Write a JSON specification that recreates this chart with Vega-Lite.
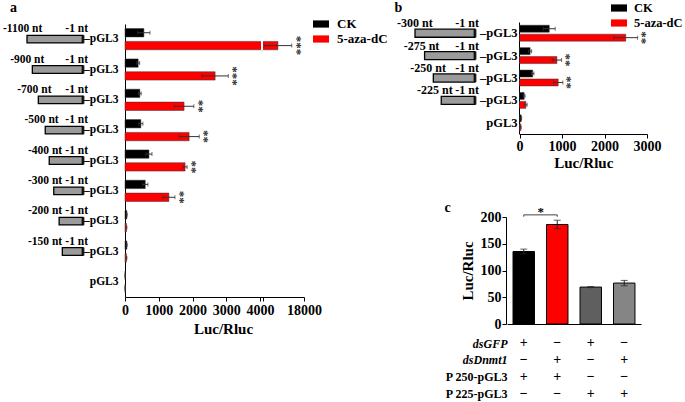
{
  "$schema": "https://vega.github.io/schema/vega-lite/v6.json",
  "width": 685,
  "height": 402,
  "autosize": {"type": "none"},
  "padding": 0,
  "background": "white",
  "config": {
    "view": {"stroke": null},
    "font": "Liberation Serif",
    "axis": {
      "labelFont": "Liberation Serif", "titleFont": "Liberation Serif",
      "labelFontWeight": "bold", "titleFontWeight": "bold",
      "labelColor": "black", "titleColor": "black",
      "domainColor": "black", "tickColor": "black",
      "grid": false, "labelFontSize": 14, "titleFontSize": 15,
      "labelOverlap": false, "labelFlush": false, "labelBound": false
    },
    "legend": {"labelFont": "Liberation Serif", "labelFontWeight": "bold", "labelColor": "black"},
    "text": {"font": "Liberation Serif", "fontWeight": "bold", "color": "black"}
  },
  "resolve": {
    "scale": {"x": "independent", "y": "independent", "color": "independent", "yOffset": "independent"},
    "axis": {"x": "independent", "y": "independent"},
    "legend": {"color": "independent"}
  },
  "layer": [
    {
      "data": {"values": [
        {"construct": "-1100", "treatment": "CK", "value": 560, "lo": 380, "hi": 740},
        {"construct": "-1100", "treatment": "5-aza-dC", "value": 9700, "lo": 5300, "hi": 14100, "sig": "***"},
        {"construct": "-900", "treatment": "CK", "value": 390, "lo": 345, "hi": 435},
        {"construct": "-900", "treatment": "5-aza-dC", "value": 2670, "lo": 2280, "hi": 3060, "sig": "***"},
        {"construct": "-700", "treatment": "CK", "value": 440, "lo": 400, "hi": 480},
        {"construct": "-700", "treatment": "5-aza-dC", "value": 1750, "lo": 1460, "hi": 2040, "sig": "**"},
        {"construct": "-500", "treatment": "CK", "value": 470, "lo": 410, "hi": 530},
        {"construct": "-500", "treatment": "5-aza-dC", "value": 1900, "lo": 1600, "hi": 2200, "sig": "**"},
        {"construct": "-400", "treatment": "CK", "value": 710, "lo": 620, "hi": 800},
        {"construct": "-400", "treatment": "5-aza-dC", "value": 1780, "lo": 1720, "hi": 1840, "sig": "**"},
        {"construct": "-300", "treatment": "CK", "value": 600, "lo": 520, "hi": 680},
        {"construct": "-300", "treatment": "5-aza-dC", "value": 1300, "lo": 1120, "hi": 1480, "sig": "**"},
        {"construct": "-200", "treatment": "CK", "value": 55, "lo": 45, "hi": 65},
        {"construct": "-200", "treatment": "5-aza-dC", "value": 45, "lo": 35, "hi": 55},
        {"construct": "-150", "treatment": "CK", "value": 55, "lo": 45, "hi": 65},
        {"construct": "-150", "treatment": "5-aza-dC", "value": 45, "lo": 35, "hi": 55},
        {"construct": "pGL3", "treatment": "CK", "value": 5, "lo": 3, "hi": 7},
        {"construct": "pGL3", "treatment": "5-aza-dC", "value": 5, "lo": 3, "hi": 7}
      ]},
      "encoding": {
        "y": {
          "field": "construct", "type": "nominal",
          "scale": {"domain": ["-1100", "-900", "-700", "-500", "-400", "-300", "-200", "-150", "pGL3"], "range": [24, 297], "paddingInner": 0.3, "paddingOuter": 0.15},
          "axis": {
            "orient": "left", "offset": -125, "ticks": false, "domain": true,
            "labelPadding": 7, "labelFontSize": 11.5,
            "labelExpr": "datum.value == 'pGL3' ? 'pGL3' : '–pGL3'",
            "title": "a", "titleAngle": 0, "titleX": -112, "titleY": 7,
            "titleAlign": "center", "titleBaseline": "middle", "titleFontSize": 14
          }
        },
        "yOffset": {"field": "treatment", "type": "nominal", "scale": {"domain": ["CK", "5-aza-dC"], "paddingInner": 0.35}}
      },
      "layer": [
        {
          "mark": {"type": "bar", "stroke": "#333", "strokeWidth": 0.5},
          "encoding": {
            "x": {
              "field": "value", "type": "quantitative",
              "scale": {"domain": [0, 4000, 18000], "range": [125, 260, 304], "zero": true, "nice": false},
              "axis": {
                "orient": "bottom", "offset": -105, "values": [0, 1000, 2000, 3000, 4000, 4950, 18000],
                "format": "d", "labelExpr": "datum.value == 4950 ? '' : datum.label",
                "tickSize": 4, "labelPadding": 2, "title": "Luc/Rluc", "titlePadding": 4, "titleX": 223
              }
            },
            "color": {
              "field": "treatment", "type": "nominal",
              "scale": {"domain": ["CK", "5-aza-dC"], "range": ["#000000", "#ff0000"]},
              "legend": {
                "orient": "none", "legendX": 313, "legendY": 16, "title": null,
                "symbolType": "M-1,-0.45H1V0.45H-1Z", "symbolSize": 256, "symbolStrokeWidth": 0,
                "labelFontSize": 13, "labelOffset": 8, "rowPadding": -1
              }
            }
          }
        },
        {
          "mark": {"type": "rect", "color": "white"},
          "encoding": {
            "x": {"datum": 4320, "type": "quantitative"},
            "x2": {"datum": 4950},
            "y": {"datum": "-1100", "type": "nominal"},
            "yOffset": {"datum": "5-aza-dC", "type": "nominal"}
          }
        },
        {
          "mark": {"type": "rule", "color": "#333", "strokeWidth": 1},
          "encoding": {"x": {"field": "lo", "type": "quantitative"}, "x2": {"field": "hi"}}
        },
        {
          "mark": {"type": "tick", "orient": "vertical", "size": 4, "thickness": 1, "color": "#333"},
          "encoding": {"x": {"field": "lo", "type": "quantitative"}}
        },
        {
          "mark": {"type": "tick", "orient": "vertical", "size": 4, "thickness": 1, "color": "#333"},
          "encoding": {"x": {"field": "hi", "type": "quantitative"}}
        },
        {
          "transform": [{"filter": "datum.sig != null"}],
          "mark": {"type": "text", "angle": 90, "align": "center", "baseline": "middle", "dy": -5, "fontSize": 13, "color": "#333"},
          "encoding": {"x": {"field": "hi", "type": "quantitative"}, "text": {"field": "sig"}}
        }
      ]
    },
    {
      "data": {"values": [
        {"construct": "-1100", "start": 1100, "end": "-1 nt"},
        {"construct": "-900", "start": 900, "end": "-1 nt"},
        {"construct": "-700", "start": 700, "end": "-1 nt"},
        {"construct": "-500", "start": 500, "end": "-1 nt"},
        {"construct": "-400", "start": 400, "end": "-1 nt"},
        {"construct": "-300", "start": 300, "end": "-1 nt"},
        {"construct": "-200", "start": 200, "end": "-1 nt"},
        {"construct": "-150", "start": 150, "end": "-1 nt"}
      ]},
      "encoding": {
        "y": {
          "field": "construct", "type": "nominal",
          "scale": {"domain": ["-1100", "-900", "-700", "-500", "-400", "-300", "-200", "-150", "pGL3"], "range": [24, 297], "paddingInner": 0.75, "paddingOuter": 0.375},
          "axis": null
        }
      },
      "layer": [
        {
          "mark": {"type": "bar", "fill": "#9b9b9b", "stroke": "black", "strokeWidth": 1.3},
          "encoding": {
            "x": {"field": "start", "type": "quantitative", "scale": {"type": "sqrt", "domain": [0, 1100], "range": [83, 27], "zero": true, "nice": false}, "axis": null},
            "x2": {"datum": 0}
          }
        },
        {
          "mark": {"type": "tick", "orient": "vertical", "size": 8, "thickness": 3, "color": "black"},
          "encoding": {"x": {"datum": 0, "type": "quantitative"}}
        },
        {
          "mark": {"type": "text", "align": "right", "baseline": "middle", "dx": 5, "dy": -10, "fontSize": 11.5},
          "encoding": {"x": {"datum": 0, "type": "quantitative"}, "text": {"field": "end"}}
        }
      ]
    },
    {
      "data": {"values": [
        {"construct": "-1100", "start": 1100, "label": "-1100 nt"},
        {"construct": "-900", "start": 900, "label": "-900 nt"},
        {"construct": "-700", "start": 700, "label": "-700 nt"},
        {"construct": "-500", "start": 500, "label": "-500 nt"},
        {"construct": "-400", "start": 400, "label": "-400 nt"},
        {"construct": "-300", "start": 300, "label": "-300 nt"},
        {"construct": "-200", "start": 200, "label": "-200 nt"},
        {"construct": "-150", "start": 150, "label": "-150 nt"}
      ]},
      "mark": {"type": "text", "align": "left", "baseline": "middle", "dy": -10, "fontSize": 11.5},
      "encoding": {
        "y": {
          "field": "construct", "type": "nominal",
          "scale": {"domain": ["-1100", "-900", "-700", "-500", "-400", "-300", "-200", "-150", "pGL3"], "range": [24, 297], "paddingInner": 0.3, "paddingOuter": 0.15},
          "axis": null
        },
        "x": {"field": "start", "type": "quantitative", "scale": {"domain": [400, 1100], "range": [28, 3], "clamp": true, "zero": false, "nice": false}, "axis": null},
        "text": {"field": "label"}
      }
    },
    {
      "data": {"values": [
        {"construct": "-300", "treatment": "CK", "value": 700, "lo": 560, "hi": 840},
        {"construct": "-300", "treatment": "5-aza-dC", "value": 2500, "lo": 2220, "hi": 2780, "sig": "**"},
        {"construct": "-275", "treatment": "CK", "value": 250, "lo": 215, "hi": 285},
        {"construct": "-275", "treatment": "5-aza-dC", "value": 880, "lo": 770, "hi": 990, "sig": "**"},
        {"construct": "-250", "treatment": "CK", "value": 310, "lo": 280, "hi": 340},
        {"construct": "-250", "treatment": "5-aza-dC", "value": 910, "lo": 800, "hi": 1020, "sig": "**"},
        {"construct": "-225", "treatment": "CK", "value": 110, "lo": 90, "hi": 130},
        {"construct": "-225", "treatment": "5-aza-dC", "value": 150, "lo": 120, "hi": 180},
        {"construct": "pGL3", "treatment": "CK", "value": 40, "lo": 30, "hi": 50},
        {"construct": "pGL3", "treatment": "5-aza-dC", "value": 30, "lo": 20, "hi": 40}
      ]},
      "encoding": {
        "y": {
          "field": "construct", "type": "nominal",
          "scale": {"domain": ["-300", "-275", "-250", "-225", "pGL3"], "range": [22, 134], "paddingInner": 0.29, "paddingOuter": 0.145},
          "axis": {
            "orient": "left", "offset": -519, "ticks": false, "domain": true,
            "labelPadding": 2, "labelFontSize": 12.5,
            "labelExpr": "datum.value == 'pGL3' ? 'pGL3' : '–pGL3'",
            "title": "b", "titleAngle": 0, "titleX": -121, "titleY": 7,
            "titleAlign": "center", "titleBaseline": "middle", "titleFontSize": 14
          }
        },
        "yOffset": {"field": "treatment", "type": "nominal", "scale": {"domain": ["CK", "5-aza-dC"], "paddingInner": 0.22}}
      },
      "layer": [
        {
          "mark": {"type": "bar", "stroke": "#333", "strokeWidth": 0.5},
          "encoding": {
            "x": {
              "field": "value", "type": "quantitative",
              "scale": {"domain": [0, 3000], "range": [519.5, 647], "zero": true, "nice": false},
              "axis": {
                "orient": "bottom", "offset": -268, "values": [0, 1000, 2000, 3000],
                "format": "d", "tickSize": 4, "labelPadding": 1, "title": "Luc/Rluc", "titlePadding": 2
              }
            },
            "color": {
              "field": "treatment", "type": "nominal",
              "scale": {"domain": ["CK", "5-aza-dC"], "range": ["#000000", "#ff0000"]},
              "legend": {
                "orient": "none", "legendX": 611, "legendY": 0, "title": null,
                "symbolType": "M-1,-0.45H1V0.45H-1Z", "symbolSize": 256, "symbolStrokeWidth": 0,
                "labelFontSize": 12.5, "labelOffset": 7, "rowPadding": -1
              }
            }
          }
        },
        {
          "mark": {"type": "rule", "color": "#333", "strokeWidth": 1},
          "encoding": {"x": {"field": "lo", "type": "quantitative"}, "x2": {"field": "hi"}}
        },
        {
          "mark": {"type": "tick", "orient": "vertical", "size": 4, "thickness": 1, "color": "#333"},
          "encoding": {"x": {"field": "lo", "type": "quantitative"}}
        },
        {
          "mark": {"type": "tick", "orient": "vertical", "size": 4, "thickness": 1, "color": "#333"},
          "encoding": {"x": {"field": "hi", "type": "quantitative"}}
        },
        {
          "transform": [{"filter": "datum.sig != null"}],
          "mark": {"type": "text", "angle": 90, "align": "center", "baseline": "middle", "dy": -4, "fontSize": 13, "color": "#333"},
          "encoding": {"x": {"field": "hi", "type": "quantitative"}, "text": {"field": "sig"}}
        }
      ]
    },
    {
      "data": {"values": [
        {"construct": "-300", "start": 300, "end": "-1 nt"},
        {"construct": "-275", "start": 275, "end": "-1 nt"},
        {"construct": "-250", "start": 250, "end": "-1 nt"},
        {"construct": "-225", "start": 225, "end": "-1 nt"}
      ]},
      "encoding": {
        "y": {
          "field": "construct", "type": "nominal",
          "scale": {"domain": ["-300", "-275", "-250", "-225", "pGL3"], "range": [22, 134], "paddingInner": 0.64, "paddingOuter": 0.32},
          "axis": null
        }
      },
      "layer": [
        {
          "mark": {"type": "bar", "fill": "#9b9b9b", "stroke": "black", "strokeWidth": 1.3},
          "encoding": {
            "x": {"field": "start", "type": "quantitative", "scale": {"type": "pow", "exponent": 2, "domain": [0, 300], "range": [475, 415], "zero": true, "nice": false}, "axis": null},
            "x2": {"datum": 0}
          }
        },
        {
          "mark": {"type": "tick", "orient": "vertical", "size": 8, "thickness": 3, "color": "black"},
          "encoding": {"x": {"datum": 0, "type": "quantitative"}}
        },
        {
          "mark": {"type": "text", "align": "right", "baseline": "middle", "dx": 4, "dy": -10, "fontSize": 12},
          "encoding": {"x": {"datum": 0, "type": "quantitative"}, "text": {"field": "end"}}
        }
      ]
    },
    {
      "data": {"values": [
        {"construct": "-300", "start": 300, "label": "-300 nt"},
        {"construct": "-275", "start": 275, "label": "-275 nt"},
        {"construct": "-250", "start": 250, "label": "-250 nt"},
        {"construct": "-225", "start": 225, "label": "-225 nt"}
      ]},
      "mark": {"type": "text", "align": "left", "baseline": "middle", "dy": -10, "fontSize": 12},
      "encoding": {
        "y": {
          "field": "construct", "type": "nominal",
          "scale": {"domain": ["-300", "-275", "-250", "-225", "pGL3"], "range": [22, 134], "paddingInner": 0.29, "paddingOuter": 0.145},
          "axis": null
        },
        "x": {"field": "start", "type": "quantitative", "scale": {"domain": [225, 300], "range": [417, 397], "zero": false, "nice": false}, "axis": null},
        "text": {"field": "label"}
      }
    },
    {
      "data": {"values": [
        {"sample": "S1", "value": 135.5, "lo": 131, "hi": 140},
        {"sample": "S2", "value": 186, "lo": 178, "hi": 194},
        {"sample": "S3", "value": 69, "lo": 68, "hi": 70},
        {"sample": "S4", "value": 76.5, "lo": 71.5, "hi": 81.5}
      ]},
      "encoding": {
        "x": {
          "field": "sample", "type": "nominal",
          "scale": {"domain": ["S1", "S2", "S3", "S4"], "range": [507, 641], "paddingInner": 0.36, "paddingOuter": 0.18},
          "axis": {"orient": "bottom", "offset": -78, "labels": false, "ticks": false, "title": null, "domain": true}
        }
      },
      "layer": [
        {
          "mark": {"type": "bar", "stroke": "black", "strokeWidth": 1},
          "encoding": {
            "y": {
              "field": "value", "type": "quantitative",
              "scale": {"domain": [0, 200], "range": [324, 217], "zero": true, "nice": false},
              "axis": {
                "orient": "left", "offset": -506, "values": [0, 50, 100, 150, 200], "format": "d",
                "tickSize": 4, "labelPadding": 1, "title": "Luc/Rluc", "titlePadding": 5
              }
            },
            "color": {
              "field": "sample", "type": "nominal",
              "scale": {"domain": ["S1", "S2", "S3", "S4"], "range": ["#000000", "#ff0000", "#5f5f5f", "#858585"]},
              "legend": null
            }
          }
        },
        {
          "mark": {"type": "rule", "color": "#222", "strokeWidth": 1},
          "encoding": {"y": {"field": "lo", "type": "quantitative"}, "y2": {"field": "hi"}}
        },
        {
          "mark": {"type": "tick", "orient": "horizontal", "size": 7, "thickness": 1, "color": "#222"},
          "encoding": {"y": {"field": "lo", "type": "quantitative"}}
        },
        {
          "mark": {"type": "tick", "orient": "horizontal", "size": 7, "thickness": 1, "color": "#222"},
          "encoding": {"y": {"field": "hi", "type": "quantitative"}}
        },
        {
          "data": {"values": [
            {"sample": "S1", "level": 200.5, "order": 1},
            {"sample": "S1", "level": 204, "order": 2},
            {"sample": "S2", "level": 204, "order": 3},
            {"sample": "S2", "level": 200.5, "order": 4}
          ]},
          "mark": {"type": "line", "color": "#444", "strokeWidth": 1},
          "encoding": {"y": {"field": "level", "type": "quantitative"}, "order": {"field": "order"}}
        },
        {
          "data": {"values": [{"sample": "S1", "level": 210, "label": "*"}]},
          "mark": {"type": "text", "dx": 17, "fontSize": 13, "baseline": "middle"},
          "encoding": {"y": {"field": "level", "type": "quantitative"}, "text": {"field": "label"}}
        }
      ]
    },
    {
      "data": {"values": [
        {"sample": "S1", "row": "dsGFP", "sign": "+"},
        {"sample": "S2", "row": "dsGFP", "sign": "−"},
        {"sample": "S3", "row": "dsGFP", "sign": "+"},
        {"sample": "S4", "row": "dsGFP", "sign": "−"},
        {"sample": "S1", "row": "dsDnmt1", "sign": "−"},
        {"sample": "S2", "row": "dsDnmt1", "sign": "+"},
        {"sample": "S3", "row": "dsDnmt1", "sign": "−"},
        {"sample": "S4", "row": "dsDnmt1", "sign": "+"},
        {"sample": "S1", "row": "P 250-pGL3", "sign": "+"},
        {"sample": "S2", "row": "P 250-pGL3", "sign": "+"},
        {"sample": "S3", "row": "P 250-pGL3", "sign": "−"},
        {"sample": "S4", "row": "P 250-pGL3", "sign": "−"},
        {"sample": "S1", "row": "P 225-pGL3", "sign": "−"},
        {"sample": "S2", "row": "P 225-pGL3", "sign": "−"},
        {"sample": "S3", "row": "P 225-pGL3", "sign": "+"},
        {"sample": "S4", "row": "P 225-pGL3", "sign": "+"}
      ]},
      "mark": {"type": "text", "fontSize": 14, "baseline": "middle"},
      "encoding": {
        "x": {
          "field": "sample", "type": "nominal",
          "scale": {"domain": ["S1", "S2", "S3", "S4"], "range": [507, 641], "paddingInner": 0.36, "paddingOuter": 0.18},
          "axis": null
        },
        "y": {
          "field": "row", "type": "nominal",
          "scale": {"type": "point", "domain": ["dsGFP", "dsDnmt1", "P 250-pGL3", "P 225-pGL3"], "range": [343, 393.5], "padding": 0},
          "axis": {
            "orient": "left", "offset": -507, "domain": false, "ticks": false, "labelPadding": 0,
            "labelFontSize": 12,
            "labelFontStyle": {"condition": {"test": "datum.value == 'dsGFP' || datum.value == 'dsDnmt1'", "value": "italic"}, "value": "normal"},
            "title": "c", "titleAngle": 0, "titleX": -60, "titleY": 207,
            "titleAlign": "center", "titleBaseline": "middle", "titleFontSize": 14
          }
        },
        "text": {"field": "sign"}
      }
    }
  ]
}
